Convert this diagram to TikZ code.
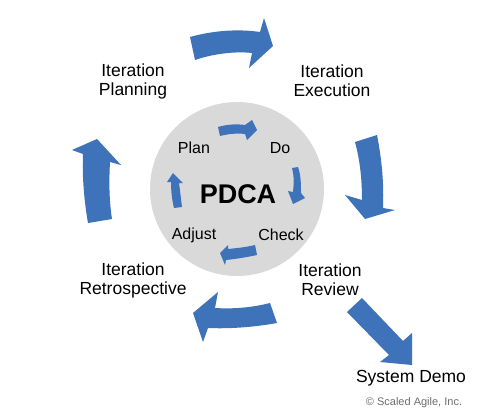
\documentclass[tikz,border=0pt]{standalone}
\usepackage{fontspec}
\setmainfont{Liberation Sans}
\definecolor{pblue}{RGB}{62,115,186}
\definecolor{pgrey}{RGB}{217,217,217}
\definecolor{cgrey}{RGB}{110,110,110}
\begin{document}
\begin{tikzpicture}[x=1pt,y=-1pt,
  biglabel/.style={align=center,font=\fontsize{17.5}{19}\selectfont,inner sep=0pt},
  smalllabel/.style={font=\fontsize{16}{18}\selectfont,inner sep=0pt},
  arrowshape/.style={fill=pblue}]
\useasboundingbox (0,0) rectangle (495,418);
\fill[white] (0,0) rectangle (495,418);
% PDCA circle
\fill[pgrey] (237,189) circle (87);
% big ring arrows
\fill[arrowshape] (190,37) .. controls (215,30) and (240,29) .. (260,32) -- (264,18) -- (273,46) -- (249,68) -- (252,53) .. controls (235,51) and (212,54) .. (195,60) -- cycle;
\fill[arrowshape] (355,142) -- (377,135) .. controls (382,160) and (384,185) .. (383,208) -- (395,210) -- (365,219) -- (345,195) -- (362,200) .. controls (362,180) and (360,160) .. (355,142) -- cycle;
\fill[arrowshape] (277,323) -- (270,303) .. controls (250,308) and (232,309) .. (215,308) -- (218,292) -- (193,313) -- (203,342) -- (208,328) .. controls (230,329) and (255,327) .. (277,323) -- cycle;
\fill[arrowshape] (88,223) -- (112,219) .. controls (109,200) and (109,180) .. (110,162) -- (121,165) -- (97,139) -- (72,150) -- (83,154) .. controls (82,175) and (84,200) .. (88,223) -- cycle;
% review -> system demo
\fill[arrowshape] (347,312) -- (362,298) -- (403,341) -- (412,333) -- (412,365) -- (380,362) -- (389,355) -- cycle;
% small PDCA arrows
\fill[arrowshape] (218,127) .. controls (228,124) and (238,124) .. (245,125) -- (252,120) -- (257,130) -- (247,140) -- (245,134) .. controls (236,133) and (228,134) .. (220,136) -- cycle;
\fill[arrowshape] (292,168) -- (298,167) .. controls (301,175) and (301,185) .. (301,193) -- (305,198) -- (293,204) -- (288,191) -- (293,192) .. controls (294,183) and (294,175) .. (292,168) -- cycle;
\fill[arrowshape] (255,245) -- (257,255) .. controls (248,257) and (236,259) .. (226,260) -- (225,265) -- (220,253) -- (228,245) -- (228,249) .. controls (238,248) and (247,247) .. (255,245) -- cycle;
\fill[arrowshape] (174,208) -- (182,207) .. controls (181,199) and (180,190) .. (179,183) -- (183,183) -- (173,173) -- (167,182) -- (171,182) .. controls (171,191) and (172,200) .. (174,208) -- cycle;
% labels
\node[biglabel] (plan) at (133,81) {Iteration\\Planning};
\node[biglabel] (exec) at (332,81) {Iteration\\Execution};
\node[biglabel] (retro) at (133,280) {Iteration\\Retrospective};
\node[biglabel] (review) at (330,280) {Iteration\\Review};
\node[biglabel] (demo) at (411,378) {System Demo};
\node[inner sep=0pt,text=cgrey,font=\fontsize{11}{13}\selectfont] (copy) at (414,403) {© Scaled Agile, Inc.};
\node[smalllabel] (p) at (194,148) {Plan};
\node[smalllabel] (d) at (280,148) {Do};
\node[smalllabel] (c) at (281,235) {Check};
\node[smalllabel] (a) at (194,235) {Adjust};
\node[inner sep=0pt,font=\bfseries\fontsize{27}{30}\selectfont] (pdca) at (238,194) {PDCA};
\end{tikzpicture}
\end{document}
